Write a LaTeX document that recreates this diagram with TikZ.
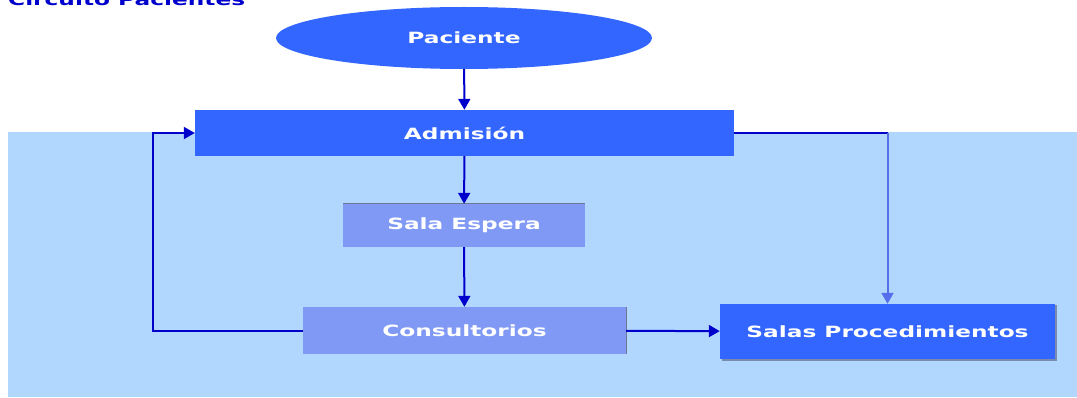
\documentclass[tikz,border=0pt]{standalone}
\usepackage{fontspec}
\usepackage{graphicx}
\usepackage{tikz}
\newfontfamily\boxfont{DejaVu Sans}
\newcommand{\wide}[1]{\scalebox{1.5}[1]{#1}}
\definecolor{field}{RGB}{178,215,255}
\definecolor{strong}{RGB}{51,102,255}
\definecolor{soft}{RGB}{128,153,245}
\definecolor{ink}{RGB}{0,0,204}
\definecolor{faint}{RGB}{85,110,235}
\definecolor{rim}{RGB}{110,120,150}
\usetikzlibrary{shapes.geometric,arrows.meta,shadows}

\begin{document}
\begin{tikzpicture}[x=1pt,y=-1pt,
        box/.style={inner sep=0pt, text=white, font=\boxfont\bfseries\fontsize{15.5}{18}\selectfont},
        link/.style={draw=ink, line width=2pt, -{Triangle[length=11pt,width=12pt]}}]
        \useasboundingbox (0,0) rectangle (1077,398);
        \fill[field] (8,132) rectangle (1077,397);

        \node[anchor=base west, inner sep=0pt, text=ink, font=\boxfont\bfseries\fontsize{15.5}{18}\selectfont] (title) at (8,6) {\wide{Circuito Pacientes}};

        \node[box, ellipse, fill=strong, minimum width=376, minimum height=62] (pac) at (464,38) {\wide{Paciente}};
        \node[box, fill=strong, minimum width=539, minimum height=46] (adm) at (464.5,133) {\wide{Admisión}};
        \node[box, fill=soft, minimum width=242, minimum height=43] (esp) at (464,225.5) {\wide{Sala Espera}};
        \node[box, fill=soft, minimum width=323, minimum height=47] (con) at (464.5,330.5) {\wide{Consultorios}};
        \node[box, fill=strong, minimum width=335, minimum height=55,
              drop shadow={shadow xshift=1.5pt, shadow yshift=-1.5pt, fill=rim, opacity=0.8}] (proc) at (887.5,331.5) {\wide{Salas Procedimientos}};

        % thin rims
        \draw[rim, line width=0.8pt] (esp.north west) -- (esp.north east);
        \draw[rim, line width=0.8pt] (con.north east) -- (con.south east);

        \coordinate (loop) at (153,330);
        \coordinate (bend) at (proc.north |- adm.east);

        \draw[link] (pac) -- (adm);
        \draw[link] (adm) -- (esp);
        \draw[link] (esp) -- (con);
        \draw[link] (con) -- (proc);
        \draw[link] (con.west) -- (con.west -| loop) |- (adm.west);
        \draw[draw=ink, line width=2pt] (adm.east) -- (bend);
        \draw[link, draw=faint] (bend) -- (proc.north);
    \end{tikzpicture}
\end{document}
